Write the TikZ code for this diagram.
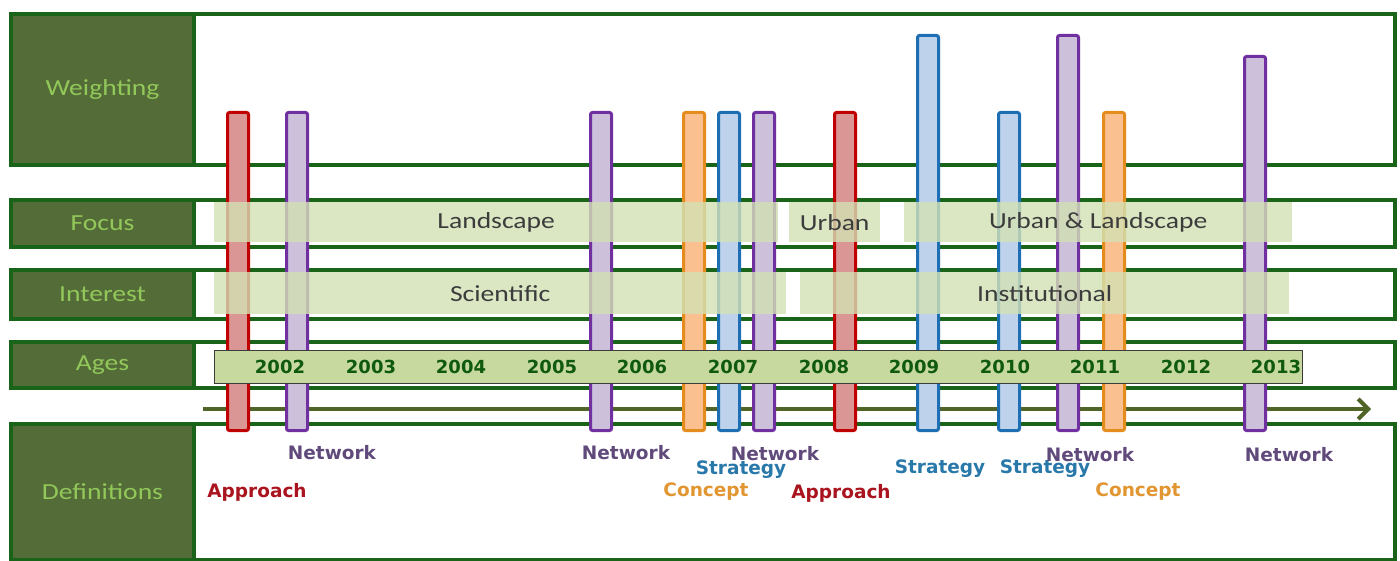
\documentclass[tikz,border=0pt]{standalone}
\usepackage{fontspec}
\usepackage{tikz}
\usetikzlibrary{arrows.meta}
\newfontfamily\boxfont[FakeStretch=1.2]{Carlito}
\newfontfamily\wordfont{DejaVu Sans}
\definecolor{framegreen}{RGB}{25,100,25}
\definecolor{cellgreen}{RGB}{84,108,56}
\definecolor{celltext}{RGB}{146,200,90}
\definecolor{bandgreen}{RGB}{210,225,180}
\definecolor{agesgreen}{RGB}{200,217,160}
\definecolor{bandtext}{RGB}{60,60,60}
\definecolor{yeartext}{RGB}{15,90,15}
\definecolor{arrowgreen}{RGB}{80,100,40}
\definecolor{approachline}{RGB}{192,0,0}
\definecolor{approachfill}{RGB}{218,150,148}
\definecolor{networkline}{RGB}{112,48,160}
\definecolor{networkfill}{RGB}{204,192,218}
\definecolor{conceptline}{RGB}{228,140,30}
\definecolor{conceptfill}{RGB}{250,192,143}
\definecolor{strategyline}{RGB}{30,110,180}
\definecolor{strategyfill}{RGB}{190,210,235}
\definecolor{networktext}{RGB}{96,74,123}
\definecolor{approachtext}{RGB}{170,20,30}
\definecolor{strategytext}{RGB}{40,120,170}
\definecolor{concepttext}{RGB}{225,150,50}

\begin{document}
\begin{tikzpicture}[x=1pt,y=-1pt]
\tikzset{rowframe/.style={draw=framegreen,line width=4pt,fill=white,inner sep=0pt,anchor=north west},
cell/.style={rowframe,fill=cellgreen,text=celltext,minimum width=183pt,font=\boxfont\fontsize{23}{23}\selectfont},
band/.style={fill=bandgreen,fill opacity=0.8,text opacity=1,text=bandtext,inner sep=0pt,anchor=north west,font=\boxfont\fontsize{23}{23}\selectfont},
bar/.style={line width=3pt,rounded corners=2pt,minimum width=21pt,inner sep=0pt,anchor=south},
approachbar/.style={bar,draw=approachline,fill=approachfill},
networkbar/.style={bar,draw=networkline,fill=networkfill},
conceptbar/.style={bar,draw=conceptline,fill=conceptfill},
strategybar/.style={bar,draw=strategyline,fill=strategyfill},
year/.style={text=yeartext,font=\wordfont\bfseries\fontsize{18}{18}\selectfont},
deftext/.style={font=\wordfont\bfseries\fontsize{18.5}{18.5}\selectfont}}
\useasboundingbox (0,0) rectangle (1400,561);

% rows
\node[rowframe,minimum width=1384pt,minimum height=151pt] (weightframe) at (9,12) {};
\node[cell,minimum height=151pt] (weighting) at (9,12) {Weighting};
\node[rowframe,minimum width=1384pt,minimum height=47pt] (focusframe) at (9,198) {};
\node[cell,minimum height=47pt] (focus) at (9,198) {Focus};
\node[rowframe,minimum width=1384pt,minimum height=49pt] (interestframe) at (9,268) {};
\node[cell,minimum height=49pt] (interest) at (9,268) {Interest};
\node[rowframe,minimum width=1384pt,minimum height=46pt] (agesframe) at (9,340) {};
\node[cell,minimum height=46pt] (ages) at (9,340) {Ages};
\node[rowframe,minimum width=1384pt,minimum height=136pt] (defframe) at (9,422) {};
\node[cell,minimum height=136pt] (definitions) at (9,422) {Definitions};

% time arrow
\coordinate (tstart) at (203,409);
\coordinate (tend) at (1371,409);
\draw[arrowgreen,line width=4pt,-{Straight Barb[length=10pt,width=20pt]}] (tstart) -- (tend);

% weighting bars
\node[approachbar,minimum height=318pt] (bar1) at (238,432) {};
\node[networkbar,minimum height=318pt] (bar2) at (297,432) {};
\node[networkbar,minimum height=318pt] (bar3) at (601,432) {};
\node[conceptbar,minimum height=318pt] (bar4) at (694,432) {};
\node[strategybar,minimum height=318pt] (bar5) at (729,432) {};
\node[networkbar,minimum height=318pt] (bar6) at (764,432) {};
\node[approachbar,minimum height=318pt] (bar7) at (845,432) {};
\node[strategybar,minimum height=395pt] (bar8) at (928,432) {};
\node[strategybar,minimum height=318pt] (bar9) at (1009,432) {};
\node[networkbar,minimum height=395pt] (bar10) at (1068,432) {};
\node[conceptbar,minimum height=318pt] (bar11) at (1114,432) {};
\node[networkbar,minimum height=374pt] (bar12) at (1255,432) {};

% focus and interest
\node[band,minimum width=564pt,minimum height=40pt] (landscape) at (214,202) {Landscape};
\node[band,minimum width=91pt,minimum height=40pt] (urban) at (789,202) {Urban};
\node[band,minimum width=388pt,minimum height=40pt] (urbanland) at (904,202) {Urban \& Landscape};
\node[band,minimum width=572pt,minimum height=42pt] (scientific) at (214,272) {Scientific};
\node[band,minimum width=489pt,minimum height=42pt] (institutional) at (800,272) {Institutional};

% ages
\node[draw=bandtext,line width=1.2pt,fill=agesgreen,inner sep=0pt,anchor=north west,minimum width=1088pt,minimum height=33pt] (ageband) at (214,350) {};
\node[year] (y2002) at (280,367) {2002};
\node[year] (y2003) at (371,367) {2003};
\node[year] (y2004) at (461,367) {2004};
\node[year] (y2005) at (552,367) {2005};
\node[year] (y2006) at (642,367) {2006};
\node[year] (y2007) at (733,367) {2007};
\node[year] (y2008) at (824,367) {2008};
\node[year] (y2009) at (914,367) {2009};
\node[year] (y2010) at (1005,367) {2010};
\node[year] (y2011) at (1095,367) {2011};
\node[year] (y2012) at (1186,367) {2012};
\node[year] (y2013) at (1276,367) {2013};

% definitions
\node[deftext,text=networktext] (net1) at (332,453) {Network};
\node[deftext,text=approachtext] (appr1) at (257,492) {Approach};
\node[deftext,text=networktext] (net2) at (626,453) {Network};
\node[deftext,text=networktext] (net3) at (775,454) {Network};
\node[deftext,text=strategytext] (strat1) at (741,470) {Strategy};
\node[deftext,text=concepttext] (conc1) at (706,492) {Concept};
\node[deftext,text=approachtext] (appr2) at (841,493) {Approach};
\node[deftext,text=strategytext] (strat2) at (940,469) {Strategy};
\node[deftext,text=strategytext] (strat3) at (1045,469) {Strategy};
\node[deftext,text=networktext] (net4) at (1090,455) {Network};
\node[deftext,text=concepttext] (conc2) at (1138,492) {Concept};
\node[deftext,text=networktext] (net5) at (1289,455) {Network};

\end{tikzpicture}
\end{document}
